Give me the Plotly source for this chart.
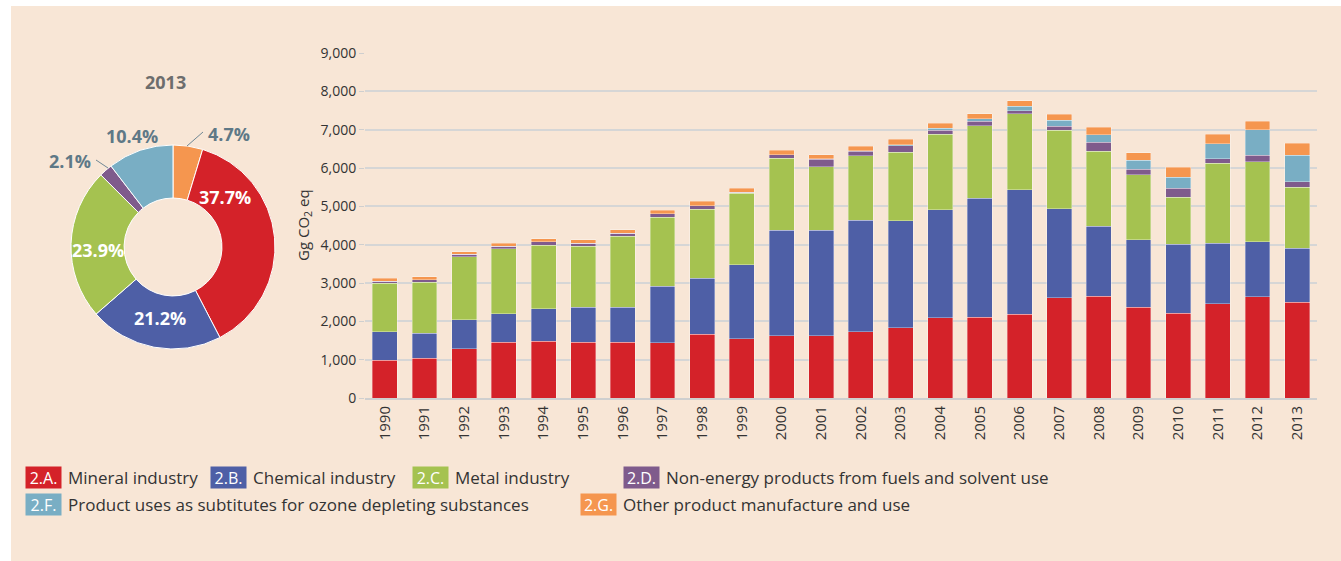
import plotly.graph_objects as go

# Industrial processes and product use emissions, Gg CO2 eq
years = [str(y) for y in range(1990, 2014)]
codes = ["2.A.", "2.B.", "2.C.", "2.D.", "2.F.", "2.G."]
names = [
    "Mineral industry",
    "Chemical industry",
    "Metal industry",
    "Non-energy products from fuels and solvent use",
    "Product uses as subtitutes for ozone depleting substances",
    "Other product manufacture and use",
]
mineral = [980, 1035, 1280, 1460, 1478, 1460, 1460, 1443, 1660, 1540, 1620, 1630,
           1730, 1835, 2095, 2105, 2190, 2620, 2650, 2374, 2217, 2460, 2635, 2504]
chemical = [750, 655, 755, 740, 852, 905, 910, 1477, 1470, 1930, 2760, 2750,
            2910, 2785, 2810, 3105, 3245, 2320, 1837, 1756, 1793, 1583, 1443, 1408]
metal = [1265, 1327, 1645, 1690, 1650, 1592, 1847, 1793, 1790, 1870, 1870, 1655,
         1680, 1790, 1982, 1886, 1982, 2050, 1948, 1696, 1225, 2079, 2087, 1588]
non_energy = [55, 70, 70, 75, 90, 85, 80, 90, 90, 30, 100, 190,
              120, 165, 95, 130, 80, 100, 235, 148, 243, 122, 174, 140]
ods_subst = [0, 0, 0, 0, 0, 0, 0, 0, 0, 0, 0, 10,
             10, 35, 50, 55, 110, 150, 200, 226, 279, 391, 661, 691]
other = [80, 78, 67, 70, 87, 88, 93, 100, 120, 100, 110, 105,
         115, 140, 133, 129, 150, 160, 190, 200, 260, 252, 226, 312]
y_ticks = [0, 1000, 2000, 3000, 4000, 5000, 6000, 7000, 8000, 9000]

series = [mineral, chemical, metal, non_energy, ods_subst, other]
colors = ["#d42229", "#4e5fa6", "#a5c250", "#7f5b8c", "#79aec4", "#f5964f"]

W, H = 1341, 561
FONT = "Open Sans"
TEXT = "#333333"
BEIGE = "#f8e6d6"


def px(x):
    return x / W


def py(y):
    return 1 - y / H


def label(x, y, text, size, color, bold=False, xanchor="center", **kw):
    if bold:
        text = f"<b>{text}</b>"
    return dict(x=px(x), y=py(y), xref="paper", yref="paper", text=text,
                xanchor=xanchor, yanchor="middle", showarrow=False,
                font=dict(family=FONT, size=size, color=color), **kw)


fig = go.Figure()

# Stacked bars
for code, name, vals, col in zip(codes, names, series, colors):
    fig.add_trace(go.Bar(
        x=years, y=vals, name=f"{code} {name}",
        marker=dict(color=col, line=dict(color="rgba(255,255,255,0.55)", width=0.6)),
        showlegend=False,
    ))

# 2013 share donut (clockwise from 12 o'clock: 2.G first, then 2.A ...)
last = [s[-1] for s in series]
pie_order = [5, 0, 1, 2, 3, 4]
fig.add_trace(go.Pie(
    values=[last[i] for i in pie_order],
    labels=[codes[i] for i in pie_order],
    marker=dict(colors=[colors[i] for i in pie_order], line=dict(color="white", width=1)),
    hole=0.48, sort=False, direction="clockwise", rotation=0,
    textinfo="none", hoverinfo="label+percent", showlegend=False,
    domain=dict(x=[px(71), px(275)], y=[py(349), py(145)]),
))

total = sum(last)
shares = [v / total for v in last]

annotations = [label(165, 82, "2013", 18, "#6d6d6d", bold=True)]
# donut percentage labels: (series index, x, y, colour)
pie_label_pos = [(0, 225, 197, "white"), (1, 160, 318, "white"), (2, 98, 250, "white"),
                 (3, 70, 161, "#5e7886"), (4, 132, 136, "#5e7886"), (5, 229, 134, "#5e7886")]
for i, lx, ly, c in pie_label_pos:
    annotations.append(label(lx, ly, f"{shares[i] * 100:.1f}%", 18, c, bold=True))

# y-axis title
annotations.append(label(304, 225, "Gg CO<sub>2</sub> eq", 15, TEXT, textangle=-90))

# custom legend: (series index, box left x, row centre y)
legend_pos = [(0, 25, 477), (1, 210, 477), (2, 412, 477), (3, 623, 477),
              (4, 25, 504), (5, 580, 504)]
for i, bx, by in legend_pos:
    annotations.append(label(bx, by, codes[i], 16, "white", xanchor="left",
                             bgcolor=colors[i], width=33, height=19, borderpad=1))
    annotations.append(label(bx + 41, by, names[i], 17, TEXT, xanchor="left"))

shapes = [
    dict(type="rect", xref="paper", yref="paper", x0=px(11), x1=1, y0=0, y1=py(6),
         fillcolor=BEIGE, line=dict(width=0), layer="below"),
    # leader lines for the small donut slices
    dict(type="line", xref="paper", yref="paper", x0=px(187), y0=py(146), x1=px(203), y1=py(132),
         line=dict(color="#6f8794", width=1)),
    dict(type="line", xref="paper", yref="paper", x0=px(96), y0=py(160), x1=px(108), y1=py(168),
         line=dict(color="#6f8794", width=1)),
]

fig.update_layout(
    width=W, height=H,
    autosize=False,
    margin=dict(l=0, r=0, t=0, b=0, pad=0),
    paper_bgcolor="white",
    plot_bgcolor="white",
    barmode="stack",
    bargap=0.37,
    showlegend=False,
    font=dict(family=FONT, color=TEXT),
    xaxis=dict(domain=[px(365), px(1317)], type="category", tickangle=-90, automargin=False,
               showline=True, linecolor="#cfcfcf", linewidth=2, ticks="",
               tickfont=dict(family=FONT, size=15, color=TEXT), showgrid=False),
    yaxis=dict(domain=[py(398), py(53)], range=[0, 9000], tickvals=y_ticks, tickformat=",",
               automargin=False,
               showgrid=True, gridcolor="#d6d6d6", gridwidth=1.5, zeroline=False,
               ticks="outside", ticklen=5, tickcolor="#cfcfcf",
               tickfont=dict(family=FONT, size=14, color=TEXT)),
    annotations=annotations,
    shapes=shapes,
)

fig.write_html("out.html")
